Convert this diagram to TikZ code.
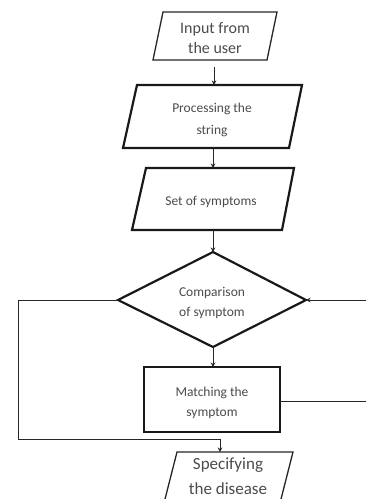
\documentclass[tikz,border=0pt]{standalone}
\usepackage{fontspec}
\setmainfont{Carlito}
\usetikzlibrary{arrows.meta}
\begin{document}
\begin{tikzpicture}[x=1pt,y=-1pt,
  thinbox/.style={draw=black!85,line width=1.3pt,line join=miter},
  thickbox/.style={draw=black!90,line width=2.2pt,line join=miter},
  lbl/.style={text=black!70,align=center,inner sep=0pt},
  conn/.style={draw=black!85,line width=0.9pt},
  arr/.style={conn,-{Stealth[length=4.5pt,width=4.5pt]}}]
\useasboundingbox[fill=white] (0,0) rectangle (366,499);
% shapes
\draw[thinbox] (163,12) -- (277,12) -- (267,60) -- (153,60) -- cycle;
\draw[thickbox] (137,85) -- (302,85) -- (289,148) -- (123,148) -- cycle;
\draw[thickbox] (146,168) -- (294,168) -- (282,230) -- (132,230) -- cycle;
\draw[thickbox] (213,252) -- (306,300) -- (213,347) -- (118,300) -- cycle;
\draw[thickbox] (144,367) rectangle (280,432);
\draw[thinbox] (177,452) -- (293,452) -- (279.5,505) -- (163.5,505) -- cycle;
% named anchors
\coordinate (inB) at (214,60);
\coordinate (prT) at (214,85);
\coordinate (prB) at (213,148);
\coordinate (stT) at (213,168);
\coordinate (stB) at (213,230);
\coordinate (dT) at (213,252);
\coordinate (dB) at (213,347);
\coordinate (dL) at (118,300);
\coordinate (dR) at (306,300);
\coordinate (mT) at (213,367);
\coordinate (mR) at (280,401);
\coordinate (spT) at (220,452);
\coordinate (lc) at (18,439);
\coordinate (rc) at (372,401);
% labels
\node[lbl,font=\fontsize{16}{20}\selectfont] (input) at (215,38) {Input from\\the user};
\node[lbl,font=\fontsize{13.5}{22}\selectfont] (proc) at (212,120) {Processing the\\string};
\node[lbl,font=\fontsize{13.5}{16}\selectfont] (set) at (211,202) {Set of symptoms};
\node[lbl,font=\fontsize{13.5}{20}\selectfont] (comp) at (212,303) {Comparison\\of symptom};
\node[lbl,font=\fontsize{13.5}{20}\selectfont] (match) at (212,403) {Matching the\\symptom};
\node[lbl,font=\fontsize{17}{25}\selectfont] (spec) at (228,476) {Specifying\\the disease};
% connectors
\draw[arr,shorten <=7pt] (inB) -- (prT);
\draw[arr] (prB) -- (stT);
\draw[arr] (stB) -- (dT);
\draw[arr] (dB) -- (mT);
\draw[arr] (dL) -- (dL -| lc) -- (lc) -- (lc -| spT) -- (spT);
\draw[arr] (mR) -- (rc) -- (rc |- dR) -- (dR);
\end{tikzpicture}
\end{document}
